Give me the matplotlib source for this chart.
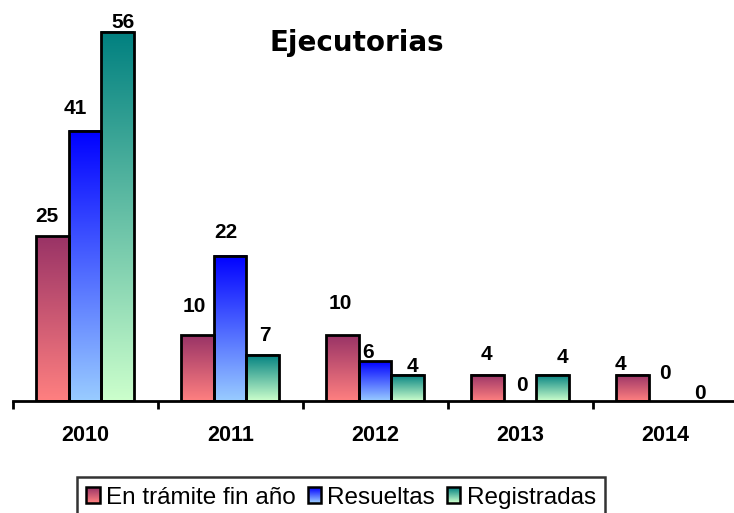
import matplotlib
matplotlib.use('Agg')
import matplotlib.pyplot as plt
import matplotlib.colors as cols
from matplotlib.patches import Rectangle, Patch
from matplotlib.legend_handler import HandlerBase
import numpy as np

years = ['2010', '2011', '2012', '2013', '2014']
series_names = ['En trámite fin año', 'Resueltas', 'Registradas']
en_tramite = [25, 10, 10, 4, 4]
resueltas = [41, 22, 6, 0, 0]
registradas = [56, 7, 4, 4, 0]

# gradient colours: (top, bottom)
grad_colors = [('#993366', '#FF8080'), ('#0000FF', '#99CCFF'), ('#008080', '#CCFFCC')]

# label offsets in pixels (dx, gap above bar) to mimic the original placement
label_dx = [[-6, -3, -2, -1, -12], [-10, -4, -7, 2, 0], [5, 2, 5, 10, 2]]
label_gap = [[10, 19, 22, 11, 1], [13, 14, -1, 6, 18], [0, 10, -1, 8, -2]]


class GradHandler(HandlerBase):
    def __init__(self, top, bottom):
        super().__init__()
        self.top = np.array(cols.to_rgb(top))
        self.bottom = np.array(cols.to_rgb(bottom))

    def create_artists(self, legend, orig_handle, xdescent, ydescent,
                       width, height, fontsize, trans):
        n = 16
        arts = []
        for i in range(n):
            f = i / (n - 1)
            c = self.bottom * (1 - f) + self.top * f
            arts.append(Rectangle((-xdescent, -ydescent + height * i / n), width, height / n + 0.3,
                                  facecolor=c, edgecolor='none', transform=trans))
        arts.append(Rectangle((-xdescent, -ydescent), width, height, facecolor='none',
                              edgecolor='black', lw=1.8, transform=trans))
        return arts


W, H = 734, 513
fig = plt.figure(figsize=(W / 100, H / 100), dpi=100)
ax = fig.add_axes([12.7 / W, 112 / H, 725 / W, 58 * 6.595 / H])

data = [en_tramite, resueltas, registradas]
bw = 0.224
x = np.arange(len(years))
grad = np.linspace(0, 1, 256).reshape(-1, 1)

for s, vals in enumerate(data):
    top, bottom = grad_colors[s]
    cmap = cols.LinearSegmentedColormap.from_list('g%d' % s, [bottom, top])
    for i, v in enumerate(vals):
        xc = x[i] + (s - 1) * bw
        if v > 0:
            ax.imshow(grad, extent=[xc - bw / 2, xc + bw / 2, 0, v], origin='lower',
                      cmap=cmap, aspect='auto', zorder=2, interpolation='bilinear')
            ax.bar(xc, v, width=bw, facecolor='none', edgecolor='black', linewidth=2.0, zorder=3)
        ax.annotate(str(v), (xc, v), xytext=(label_dx[s][i], label_gap[s][i]),
                    textcoords='offset pixels', ha='center', va='bottom',
                    fontsize=15, fontweight='bold', family='Liberation Sans', zorder=4)

ax.set_xlim(-0.5, 4.5)
ax.set_ylim(0, 58)
for sp in ['left', 'right', 'top']:
    ax.spines[sp].set_visible(False)
ax.spines['bottom'].set_linewidth(2.0)
ax.spines['bottom'].set_zorder(5)
ax.set_yticks([])
ax.set_xticks(x)
ax.set_xticklabels(years, fontsize=15.5, fontweight='bold', family='Liberation Sans')
ax.set_xticks(np.arange(-0.5, 5, 1), minor=True)
ax.tick_params(axis='x', which='major', length=0, pad=17)
ax.tick_params(axis='x', which='minor', length=6, width=2.0, direction='out')

fig.text(356.5 / W, 1 - 50.7 / H, 'Ejecutorias', ha='center', va='baseline',
         fontsize=20, fontweight='bold', family='DejaVu Sans')

proxies = [Patch(label=n) for n in series_names]
hmap = {p: GradHandler(*grad_colors[k]) for k, p in enumerate(proxies)}
leg = fig.legend(handles=proxies, handler_map=hmap, loc='upper left',
                 bbox_to_anchor=(76.7 / W, 1 - 477 / H), ncol=3, frameon=True,
                 fancybox=False, edgecolor='black', prop={'family': 'Liberation Sans', 'size': 17.5},
                 handlelength=0.55, handleheight=0.6, handletextpad=0.25, columnspacing=0.5,
                 borderpad=0.4, borderaxespad=0)
leg.get_frame().set_linewidth(1.8)

fig.savefig('out.png', dpi=100)
